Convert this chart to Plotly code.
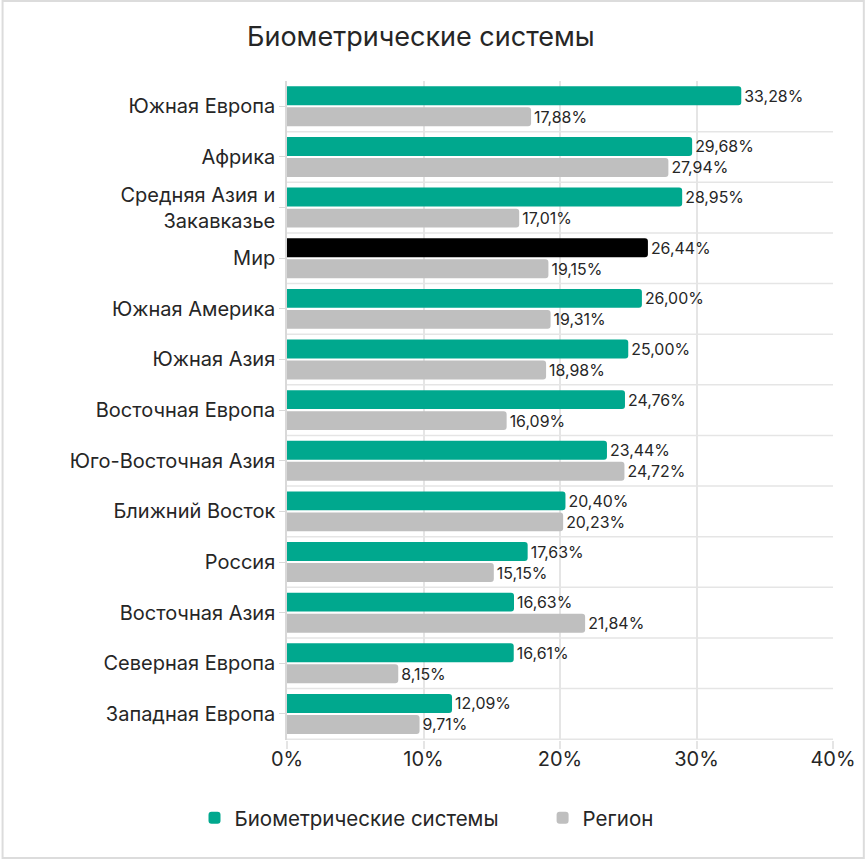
import plotly.graph_objects as go

regions = ["Южная Европа", "Африка", "Средняя Азия и<br>Закавказье", "Мир",
           "Южная Америка", "Южная Азия", "Восточная Европа", "Юго-Восточная Азия",
           "Ближний Восток", "Россия", "Восточная Азия", "Северная Европа",
           "Западная Европа"]
biometric = [33.28, 29.68, 28.95, 26.44, 26.00, 25.00, 24.76, 23.44, 20.40,
             17.63, 16.63, 16.61, 12.09]
region = [17.88, 27.94, 17.01, 19.15, 19.31, 18.98, 16.09, 24.72, 20.23,
          15.15, 21.84, 8.15, 9.71]
x_ticks = [0, 10, 20, 30, 40]

GREEN = "#00A88E"
GRAY = "#BFBFBF"
TXT = "#262626"
GRID = "#E5E5E5"
FONT = "Inter"


def fmt(v):
    return f"{v:.2f}%".replace(".", ",")


bio_colors = ["#000000" if r == "Мир" else GREEN for r in regions]

fig = go.Figure()
fig.add_trace(go.Bar(y=regions, x=biometric, orientation="h",
                     name="Биометрические системы", legend="legend",
                     marker=dict(color=bio_colors, line=dict(width=0)),
                     text=[fmt(v) for v in biometric], textposition="outside",
                     textfont=dict(size=18.5, color=TXT), cliponaxis=False))
fig.add_trace(go.Bar(y=regions, x=region, orientation="h", name="Регион",
                     legend="legend2",
                     marker=dict(color=GRAY, line=dict(width=0)),
                     text=[fmt(v) for v in region], textposition="outside",
                     textfont=dict(size=18.5, color=TXT), cliponaxis=False))

# separators between categories
for i in range(len(regions)):
    fig.add_shape(type="line", xref="paper", yref="y", x0=0, x1=1,
                  y0=i + 0.5, y1=i + 0.5, line=dict(color=GRID, width=1.5),
                  layer="below")

# light frame around the whole picture
W, H = 868, 859
L, R, T, B = 287, 32, 81, 119
pw, ph = W - L - R, H - T - B
fig.add_shape(type="rect", xref="paper", yref="paper",
              x0=(1 - L) / pw, x1=1 + (R - 1) / pw,
              y0=-(B - 1) / ph, y1=1 + (T - 1) / ph,
              line=dict(color="#DCDCDC", width=2))

leg_y = -(818 - (H - B)) / ph
leg_font = dict(size=20.5, color=TXT)
fig.update_layout(
    width=W, height=H,
    margin=dict(l=L, r=R, t=T, b=B),
    paper_bgcolor="white", plot_bgcolor="white",
    font=dict(family=FONT, color=TXT),
    barmode="group", bargap=0.17, bargroupgap=0.1, barcornerradius=3,
    title=dict(text="Биометрические системы", x=247 / W, xanchor="left",
               y=1 - 37 / H, yanchor="middle", font=dict(size=27, color=TXT)),
    legend=dict(orientation="h", x=(194 - L) / pw, xanchor="left", y=leg_y,
                yanchor="middle", font=leg_font),
    legend2=dict(orientation="h", x=(544 - L) / pw, xanchor="left", y=leg_y,
                 yanchor="middle", font=leg_font),
    showlegend=True,
)
fig.update_xaxes(range=[0, 40], tickvals=x_ticks,
                 ticktext=[f"{v}%" for v in x_ticks],
                 showgrid=True, gridcolor=GRID, gridwidth=1.5,
                 zeroline=False, ticks="outside", ticklen=8, tickcolor=GRID,
                 tickwidth=1.5, tickfont=dict(size=20, color=TXT),
                 ticklabelstandoff=-7, fixedrange=True)
fig.update_yaxes(autorange="reversed", showgrid=False, showline=True,
                 linecolor="#D9D9D9", linewidth=1.5, ticks="outside", ticklen=6,
                 tickcolor="#D9D9D9", tickfont=dict(size=20, color=TXT),
                 ticklabelstandoff=0, fixedrange=True)

fig.write_html("out.html", config={"displayModeBar": False},
               post_script="document.body.style.margin='0';"
                           "document.body.style.overflow='hidden';")
